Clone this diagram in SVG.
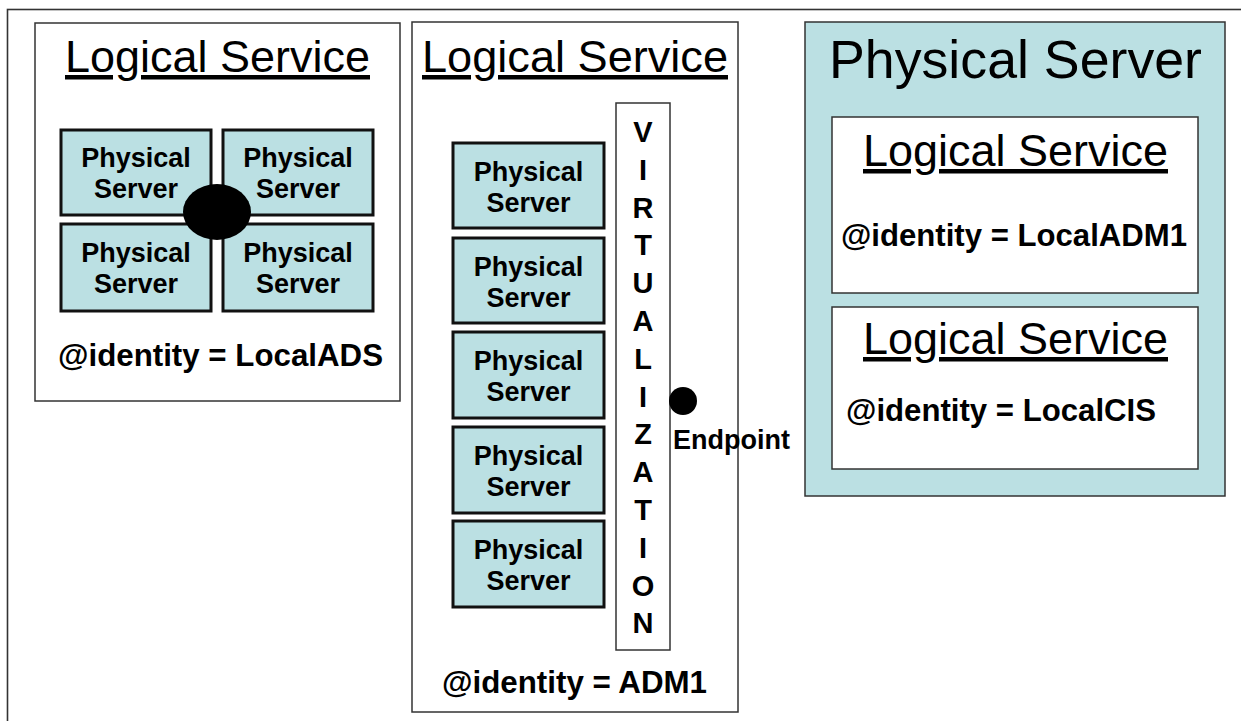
<svg xmlns="http://www.w3.org/2000/svg" width="1241" height="721" viewBox="0 0 1241 721">
<style>
text{font-family:"Liberation Sans",Arial,Helvetica,sans-serif;fill:#000}
.title{font-size:45px;text-decoration:underline}
.big{font-size:53px}
.ps{font-size:27px;font-weight:bold;text-anchor:middle}
.id{font-size:31px;font-weight:bold}
.virt{font-size:29px;font-weight:bold;text-anchor:middle}
.box{fill:#fff;stroke:#333;stroke-width:1.5}
.srv{fill:#bbe0e3;stroke:#111;stroke-width:3}
.phys{fill:#bbe0e3;stroke:#333;stroke-width:1.5}
</style>
<rect width="1241" height="721" fill="#fff"/>
<rect id="frame" x="7.5" y="9.5" width="1260" height="740" fill="none" stroke="#333" stroke-width="1.6"/>

<g id="ls-left">
<rect class="box" x="35" y="23" width="365" height="378"/>
<text class="title" x="65" y="72" textLength="305" lengthAdjust="spacingAndGlyphs">Logical Service</text>
<g id="ls-left-s1"><rect class="srv" x="61" y="130" width="150" height="85"/><text class="ps" x="136" y="167">Physical</text><text class="ps" x="136" y="198">Server</text></g>
<g id="ls-left-s2"><rect class="srv" x="223" y="130" width="150" height="85"/><text class="ps" x="298" y="167">Physical</text><text class="ps" x="298" y="198">Server</text></g>
<g id="ls-left-s3"><rect class="srv" x="61" y="224" width="150" height="87"/><text class="ps" x="136" y="262">Physical</text><text class="ps" x="136" y="293">Server</text></g>
<g id="ls-left-s4"><rect class="srv" x="223" y="224" width="150" height="87"/><text class="ps" x="298" y="262">Physical</text><text class="ps" x="298" y="293">Server</text></g>
<ellipse id="ls-left-hub" cx="217" cy="212" rx="34" ry="28" fill="#000"/>
<text class="id" x="58" y="366" textLength="325" lengthAdjust="spacingAndGlyphs">@identity = LocalADS</text>
</g>

<g id="ls-middle">
<rect class="box" x="412" y="22" width="326" height="690"/>
<text class="title" x="422" y="72" textLength="306" lengthAdjust="spacingAndGlyphs">Logical Service</text>
<g id="ls-mid-s1"><rect class="srv" x="453" y="143" width="151" height="85"/><text class="ps" x="528.5" y="181">Physical</text><text class="ps" x="528.5" y="212">Server</text></g>
<g id="ls-mid-s2"><rect class="srv" x="453" y="238" width="151" height="85"/><text class="ps" x="528.5" y="276">Physical</text><text class="ps" x="528.5" y="307">Server</text></g>
<g id="ls-mid-s3"><rect class="srv" x="453" y="332" width="151" height="86"/><text class="ps" x="528.5" y="370">Physical</text><text class="ps" x="528.5" y="401">Server</text></g>
<g id="ls-mid-s4"><rect class="srv" x="453" y="427" width="151" height="86"/><text class="ps" x="528.5" y="465">Physical</text><text class="ps" x="528.5" y="496">Server</text></g>
<g id="ls-mid-s5"><rect class="srv" x="453" y="521" width="151" height="86"/><text class="ps" x="528.5" y="559">Physical</text><text class="ps" x="528.5" y="590">Server</text></g>
<g id="virtualization">
<rect class="box" x="616" y="103" width="54" height="547"/>
<text class="virt" x="643" y="142"><tspan x="643">V</tspan><tspan x="643" dy="37.8">I</tspan><tspan x="643" dy="37.8">R</tspan><tspan x="643" dy="37.8">T</tspan><tspan x="643" dy="37.8">U</tspan><tspan x="643" dy="37.8">A</tspan><tspan x="643" dy="37.8">L</tspan><tspan x="643" dy="37.8">I</tspan><tspan x="643" dy="37.8">Z</tspan><tspan x="643" dy="37.8">A</tspan><tspan x="643" dy="37.8">T</tspan><tspan x="643" dy="37.8">I</tspan><tspan x="643" dy="37.8">O</tspan><tspan x="643" dy="37.8">N</tspan></text>
</g>
<g id="endpoint">
<circle cx="683" cy="401" r="14" fill="#000"/>
<text x="673" y="449" style="font-size:27px;font-weight:bold" textLength="117" lengthAdjust="spacingAndGlyphs">Endpoint</text>
</g>
<text class="id" x="442" y="693" textLength="265" lengthAdjust="spacingAndGlyphs">@identity = ADM1</text>
</g>

<g id="physical-server">
<rect class="phys" x="805" y="22" width="420" height="474"/>
<text class="big" x="829" y="78" textLength="373" lengthAdjust="spacingAndGlyphs">Physical Server</text>
<g id="ls-adm1">
<rect class="box" x="832" y="117" width="366" height="176"/>
<text class="title" x="863" y="166" textLength="305" lengthAdjust="spacingAndGlyphs">Logical Service</text>
<text class="id" x="841" y="246" textLength="346" lengthAdjust="spacingAndGlyphs">@identity = LocalADM1</text>
</g>
<g id="ls-cis">
<rect class="box" x="832" y="307" width="366" height="162"/>
<text class="title" x="863" y="354" textLength="305" lengthAdjust="spacingAndGlyphs">Logical Service</text>
<text class="id" x="846" y="421" textLength="310" lengthAdjust="spacingAndGlyphs">@identity = LocalCIS</text>
</g>
</g>

<g id="connectors"/>
</svg>
